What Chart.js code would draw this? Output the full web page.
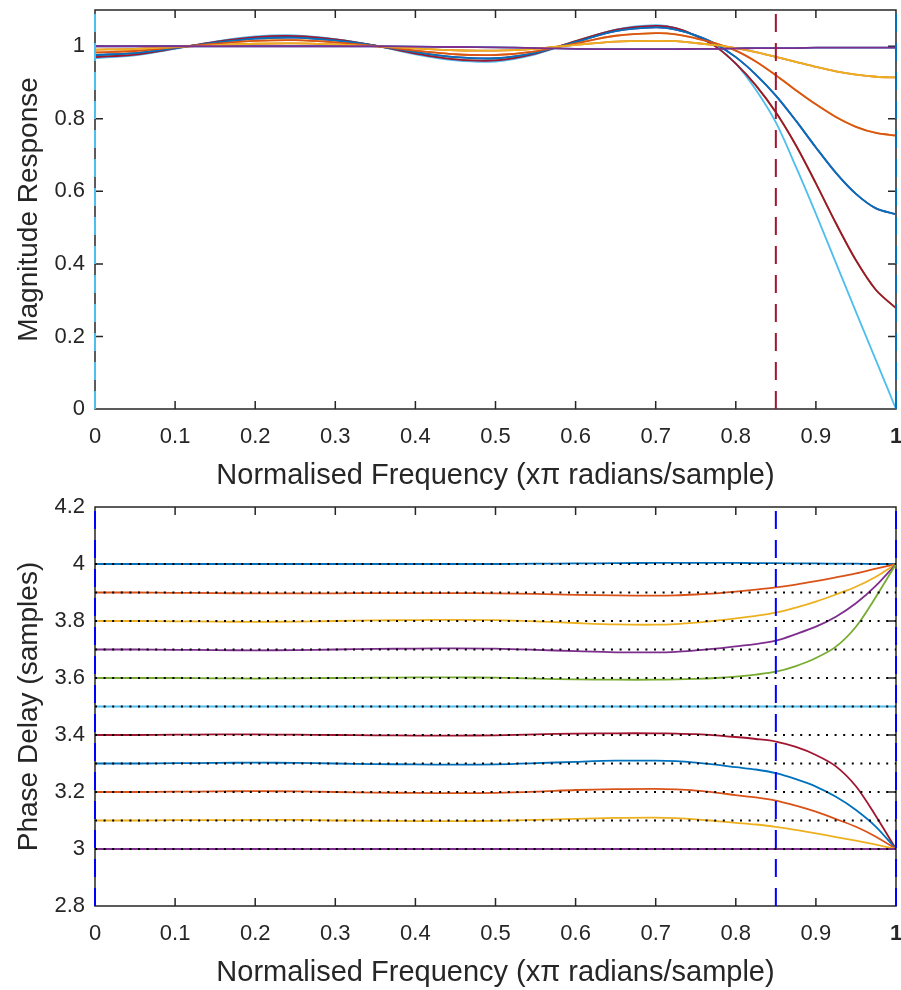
<!DOCTYPE html>
<html><head><meta charset="utf-8">
<script src="https://cdn.jsdelivr.net/npm/chart.js@4"></script>
<style>
html,body{margin:0;padding:0;background:#fff;width:901px;height:990px;overflow:hidden}
.wrap{position:absolute;left:0;width:901px;height:495px}
#w1{top:0} #w2{top:495px}
canvas{display:block}
</style></head><body>
<div class="wrap" id="w1"><canvas id="c1" width="901" height="495"></canvas></div>
<div class="wrap" id="w2"><canvas id="c2" width="901" height="495"></canvas></div>
<script>
// ---- data ----
const freq = [0, 0.05, 0.1, 0.15, 0.2, 0.25, 0.3, 0.35, 0.4, 0.45, 0.5, 0.55, 0.6, 0.65, 0.7, 0.725, 0.75, 0.775, 0.8, 0.825, 0.85, 0.875, 0.9, 0.925, 0.95, 0.975, 1];

// magnitude response per fractional delay (d and 1-d share one curve)
const magD00 = [1.000,1.000,1.000,1.000,1.000,1.000,1.000,1.000,0.999,0.998,0.997,0.995,0.993,0.992,0.992, 0.992,0.993,0.993,0.994,0.995,0.995,0.995,0.996,0.996,0.996,0.996,0.996];
const magD01 = [0.991,0.993,0.998,1.003,1.007,1.008,1.005,1.000,0.994,0.989,0.988,0.993,1.004,1.013,1.015, 1.014,1.009,1.003,0.995,0.984,0.971,0.957,0.943,0.931,0.922,0.916,0.914];
const magD02 = [0.983,0.987,0.997,1.007,1.015,1.017,1.011,1.001,0.988,0.978,0.976,0.986,1.008,1.029,1.036, 1.033,1.022,1.008,0.988,0.958,0.920,0.879,0.840,0.805,0.778,0.761,0.754];
const magD03 = [0.976,0.981,0.995,1.010,1.021,1.024,1.016,1.002,0.984,0.970,0.967,0.982,1.012,1.042,1.052, 1.046,1.030,1.006,0.970,0.922,0.864,0.795,0.721,0.651,0.593,0.553,0.537];
const magD04 = [0.970,0.977,0.994,1.012,1.025,1.028,1.019,1.002,0.980,0.964,0.961,0.980,1.014,1.045,1.056, 1.050,1.029,0.999,0.952,0.892,0.818,0.727,0.622,0.512,0.410,0.328,0.278];
const magD05 = [0.967,0.975,0.993,1.013,1.027,1.030,1.020,1.002,0.978,0.961,0.958,0.978,1.013,1.046,1.058, 1.050,1.028,1.000,0.952,0.880,0.790,0.668,0.538,0.403,0.268,0.134,0.000];

// phase delay (samples) per total delay
const pd40 = [4.000,4.000,4.000,4.000,4.000,4.000,4.000,4.000,4.000,4.000,4.000,4.001,4.002,4.003,4.004, 4.004,4.004,4.004,4.004,4.003,4.003,4.002,4.002,4.001,4.001,4.000,4.000];
const pd39 = [3.900,3.900,3.899,3.898,3.897,3.897,3.897,3.898,3.898,3.898,3.897,3.895,3.892,3.890,3.889, 3.890,3.893,3.897,3.903,3.910,3.918,3.928,3.940,3.953,3.967,3.984,4.000];
const pd38 = [3.800,3.800,3.799,3.798,3.797,3.798,3.800,3.802,3.803,3.804,3.803,3.799,3.793,3.788,3.787, 3.789,3.794,3.801,3.809,3.818,3.829,3.847,3.868,3.893,3.920,3.955,4.000];
const pd37 = [3.700,3.700,3.699,3.698,3.697,3.698,3.700,3.702,3.703,3.704,3.703,3.699,3.694,3.690,3.690, 3.692,3.697,3.703,3.711,3.719,3.731,3.754,3.780,3.815,3.862,3.924,4.000];
const pd36 = [3.600,3.600,3.600,3.599,3.598,3.599,3.600,3.601,3.602,3.602,3.601,3.598,3.595,3.594,3.594, 3.595,3.597,3.600,3.605,3.612,3.622,3.642,3.670,3.710,3.780,3.885,4.000];
const pd35 = [3.500,3.500,3.500,3.500,3.500,3.500,3.500,3.500,3.500,3.500,3.500,3.500,3.500,3.500,3.500, 3.500,3.500,3.500,3.500,3.500,3.500,3.500,3.500,3.500,3.500,3.500,3.500];
const pd34 = [3.400,3.400,3.401,3.402,3.402,3.401,3.400,3.399,3.398,3.398,3.399,3.402,3.405,3.406,3.406, 3.405,3.403,3.399,3.393,3.386,3.377,3.358,3.330,3.290,3.220,3.115,3.000];
const pd33 = [3.300,3.300,3.301,3.302,3.303,3.302,3.300,3.298,3.297,3.296,3.297,3.301,3.306,3.310,3.310, 3.308,3.303,3.296,3.287,3.279,3.266,3.245,3.219,3.183,3.137,3.078,3.000];
const pd32 = [3.200,3.200,3.201,3.202,3.203,3.202,3.200,3.198,3.197,3.196,3.197,3.201,3.207,3.210,3.211, 3.209,3.205,3.198,3.189,3.181,3.170,3.152,3.131,3.105,3.078,3.043,3.000];
const pd31 = [3.100,3.100,3.101,3.101,3.102,3.102,3.100,3.099,3.098,3.098,3.099,3.102,3.106,3.109,3.110, 3.108,3.104,3.098,3.092,3.086,3.078,3.067,3.055,3.042,3.029,3.015,3.000];
const pd30 = [3.000,3.000,3.000,3.000,3.000,3.000,3.000,3.000,3.000,3.000,3.000,3.000,3.000,3.000,3.000, 3.000,3.000,3.000,3.000,3.000,3.000,3.000,3.000,3.000,3.000,3.000,3.000];

const nominalDelays = [4.0, 3.9, 3.8, 3.7, 3.6, 3.5, 3.4, 3.3, 3.2, 3.1, 3.0];
const cutoffFreq = 0.85;
const edgeFreqs = [0, 1];
const xTicks = [0, 0.1, 0.2, 0.3, 0.4, 0.5, 0.6, 0.7, 0.8, 0.9, 1];
const magTicks = [0, 0.2, 0.4, 0.6, 0.8, 1];
const delayTicks = [2.8, 3, 3.2, 3.4, 3.6, 3.8, 4, 4.2];
const magRange = [0, 1.1];
const delayRange = [2.8, 4.2];

// ---- styles ----
const C = {blue:'#0072BD', orange:'#D95319', yellow:'#EDB120', purple:'#7E2F8E', green:'#77AC30', lblue:'#4DBEEE', dred:'#A2142F', pure:'#0000FF'};
const cycle = [C.blue, C.orange, C.yellow, C.purple, C.green, C.lblue, C.dred];
const FONT = "'Liberation Sans', Arial, Helvetica, sans-serif";
const TXT = '#262626';

function series(arr){ return freq.map((f,i)=>({x:f, y:arr[i]})); }
function curve(arr, color){
  return {data:series(arr), borderColor:color, borderWidth:1.8, pointRadius:0, fill:false, tension:0.3};
}
function vline(xv, range, color){
  return {data:[{x:xv,y:range[0]},{x:xv,y:range[1]}], borderColor:color, borderWidth:2, borderDash:[18,11], pointRadius:0, fill:false, clip:false, tension:0};
}

const boxPlugin = {
  id:'matlabBox',
  beforeDatasetsDraw(chart){
    const {ctx, chartArea:a, scales:{x,y}} = chart;
    ctx.save();
    ctx.strokeStyle = TXT; ctx.lineWidth = 1.5;
    ctx.beginPath();
    ctx.rect(a.left, a.top, a.right-a.left, a.bottom-a.top);
    x.ticks.forEach(t=>{
      const p = x.getPixelForValue(t.value);
      ctx.moveTo(p, a.bottom); ctx.lineTo(p, a.bottom-8);
      ctx.moveTo(p, a.top); ctx.lineTo(p, a.top+8);
    });
    y.ticks.forEach(t=>{
      const p = y.getPixelForValue(t.value);
      ctx.moveTo(a.left, p); ctx.lineTo(a.left+8, p);
      ctx.moveTo(a.right, p); ctx.lineTo(a.right-8, p);
    });
    ctx.stroke();
    ctx.restore();
  }
};

function fmt(v){ return String(+(+v).toFixed(2)); }
function zeroPad(s){ s.paddingLeft = 0; s.paddingRight = 0; s.paddingTop = 0; s.paddingBottom = 0; }

function makeOptions(yRange, yTicksArr, yTitle, padTop, xAxisH, xTitlePad){
  return {
    responsive:false, animation:false, devicePixelRatio:1,
    events:[],
    layout:{padding:{left:0, top:padTop, right:5, bottom:0}},
    plugins:{legend:{display:false}, tooltip:{enabled:false}},
    scales:{
      x:{type:'linear', min:0, max:1,
        afterBuildTicks:s=>{ s.ticks = xTicks.map(v=>({value:v})); },
        afterFit:s=>{ s.height = xAxisH; zeroPad(s); },
        grid:{display:false, drawTicks:false}, border:{display:false},
        ticks:{padding:15, color:TXT, maxRotation:0, autoSkip:false,
          font:(c)=>({family:FONT, size:22, weight:(c.tick && c.tick.value===1)?'bold':'normal'}),
          callback:v=>fmt(v)},
        title:{display:true, text:'Normalised Frequency (x\u03C0 radians/sample)', color:TXT,
          font:{family:FONT, size:29}, padding:{top:0, bottom:xTitlePad}}
      },
      y:{type:'linear', min:yRange[0], max:yRange[1],
        afterBuildTicks:s=>{ s.ticks = yTicksArr.map(v=>({value:v})); },
        afterFit:s=>{ s.width = 95; zeroPad(s); },
        grid:{display:false, drawTicks:false}, border:{display:false},
        ticks:{padding:10, color:TXT, autoSkip:false, font:{family:FONT, size:22}, callback:v=>fmt(v)},
        title:{display:true, text:yTitle, color:TXT, font:{family:FONT, size:28}, padding:{top:12, bottom:0}}
      }
    }
  };
}

// ---- top: magnitude ----
const magByDelay = [magD00, magD01, magD02, magD03, magD04, magD05, magD04, magD03, magD02, magD01, magD00];
const topDrawOrder = [];
nominalDelays.forEach((d,i)=>{ topDrawOrder.push(curve(magByDelay[i], cycle[i % 7])); });
topDrawOrder.push(vline(edgeFreqs[0], magRange, C.lblue));
topDrawOrder.push(vline(edgeFreqs[1], magRange, C.blue));
topDrawOrder.push(vline(cutoffFreq, magRange, C.dred));

new Chart(document.getElementById('c1'), {
  type:'line',
  data:{datasets: topDrawOrder.slice().reverse()},
  options: makeOptions(magRange, magTicks, 'Magnitude Response', 10, 86, 2),
  plugins:[boxPlugin]
});

// ---- bottom: phase delay ----
const pdByDelay = [pd40, pd39, pd38, pd37, pd36, pd35, pd34, pd33, pd32, pd31, pd30];
const botDrawOrder = [];
nominalDelays.forEach((d,i)=>{ botDrawOrder.push(curve(pdByDelay[i], cycle[i % 7])); });
nominalDelays.forEach(d=>{
  botDrawOrder.push({data:[{x:0,y:d},{x:1,y:d}], borderColor:'#000', borderWidth:2, borderDash:[2,6.6], pointRadius:0, fill:false, tension:0});
});
botDrawOrder.push(vline(edgeFreqs[0], delayRange, C.pure));
botDrawOrder.push(vline(cutoffFreq, delayRange, C.pure));
botDrawOrder.push(vline(edgeFreqs[1], delayRange, C.pure));

new Chart(document.getElementById('c2'), {
  type:'line',
  data:{datasets: botDrawOrder.slice().reverse()},
  options: makeOptions(delayRange, delayTicks, 'Phase Delay (samples)', 12, 84, 0),
  plugins:[boxPlugin]
});
</script>
</body></html>
